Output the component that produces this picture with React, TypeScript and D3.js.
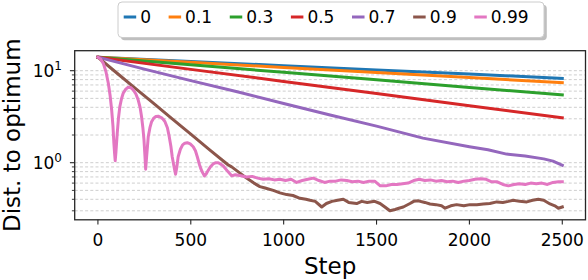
import React from "react";
import * as d3 from "d3";

// ---------- data ----------
const momentumLabels = ["0", "0.1", "0.3", "0.5", "0.7", "0.9", "0.99"];
const seriesColors = ["#1f77b4", "#ff7f0e", "#2ca02c", "#d62728", "#9467bd", "#8c564b", "#e377c2"];

const stepsCoarse = [0, 500, 1000, 1500, 2000, 2500];
const distM0 = [14, 12.6, 11.34, 10.2, 9.18, 8.26];
const distM01 = [14, 12.33, 10.85, 9.56, 8.41, 7.41];
const distM03 = [14, 11.59, 9.6, 7.95, 6.58, 5.45];
const distM05 = [14, 10.34, 7.64, 5.65, 4.17, 3.08];

const stepsM07 = [0, 250, 500, 750, 1000, 1250, 1500, 1750, 2000, 2100, 2200, 2300, 2400, 2450, 2500];
const distM07 = [14, 10.4, 7.8, 5.9, 4.4, 3.3, 2.5, 1.85, 1.49, 1.38, 1.24, 1.18, 1.1, 1.04, 0.94];

const stepsM09 = [
  0, 100, 200, 300, 400, 500, 600, 700, 720, 765, 800, 840, 872, 900, 944, 980, 1016, 1050, 1088, 1120,
  1142, 1170, 1205, 1230, 1260, 1290, 1321, 1350, 1393, 1420, 1450, 1490, 1519, 1545, 1572, 1600, 1620,
  1644, 1680, 1700, 1725, 1760, 1788, 1820, 1850, 1869, 1900, 1931, 1970, 2003, 2040, 2075, 2110, 2147,
  2180, 2210, 2236, 2270, 2309, 2340, 2371, 2400, 2434, 2460, 2479, 2500,
];
const distM09 = [
  14, 9.5, 6.48, 4.41, 3.0, 2.04, 1.39, 0.95, 0.9, 0.77, 0.68, 0.6, 0.55, 0.53, 0.5, 0.47, 0.45, 0.44,
  0.41, 0.4, 0.39, 0.38, 0.33, 0.36, 0.38, 0.39, 0.4, 0.37, 0.36, 0.38, 0.37, 0.38, 0.36, 0.33, 0.3, 0.31,
  0.32, 0.33, 0.36, 0.38, 0.385, 0.37, 0.356, 0.35, 0.34, 0.32, 0.34, 0.35, 0.34, 0.35, 0.35, 0.356, 0.36,
  0.375, 0.37, 0.38, 0.39, 0.38, 0.375, 0.39, 0.4, 0.39, 0.356, 0.34, 0.32, 0.33,
];

const stepsM099 = [
  0, 15, 29, 43, 56, 66, 74, 81, 86, 90, 93, 97, 104, 111, 118, 127, 136, 150, 163, 177, 190, 205, 217, 227,
  235, 242, 248, 253, 257, 262, 271, 280, 289, 300, 312, 325, 340, 352, 361, 374, 384, 393, 400, 410, 418,
  425, 432, 444, 456, 468, 481, 497, 513, 525, 535, 547, 555, 565, 573, 582, 590, 605, 620, 635, 648, 662,
  675, 700, 720, 740, 770, 800, 830, 860, 890, 920, 950, 980, 1010, 1040, 1070, 1100, 1130, 1160, 1190,
  1220, 1250, 1280, 1310, 1340, 1370, 1400, 1430, 1460, 1490, 1520, 1550, 1580, 1610, 1640, 1670, 1700,
  1730, 1760, 1790, 1820, 1850, 1880, 1910, 1940, 1970, 2000, 2030, 2060, 2090, 2120, 2150, 2180, 2210,
  2240, 2270, 2300, 2330, 2360, 2390, 2420, 2450, 2480, 2500,
];
const distM099 = [
  14, 13.4, 12.0, 9.8, 7.3, 5.3, 3.74, 2.5, 1.62, 1.25, 1.05, 1.3, 2.09, 3.1, 4.07, 4.95, 5.68, 6.3, 6.6,
  6.55, 6.2, 5.55, 4.8, 4.0, 3.16, 2.4, 1.77, 1.2, 0.85, 1.15, 1.92, 2.4, 2.79, 3.05, 3.18, 3.2, 3.1, 2.95,
  2.79, 2.4, 1.92, 1.5, 1.16, 0.9, 0.75, 0.9, 1.16, 1.4, 1.56, 1.63, 1.65, 1.6, 1.49, 1.35, 1.16, 0.95,
  0.85, 0.77, 0.72, 0.75, 0.8, 0.9, 0.97, 1.0, 1.0, 0.96, 0.92, 0.8, 0.72, 0.74, 0.72, 0.7, 0.71, 0.68,
  0.66, 0.67, 0.65, 0.66, 0.64, 0.66, 0.61, 0.64, 0.66, 0.68, 0.64, 0.61, 0.63, 0.63, 0.65, 0.64, 0.62,
  0.63, 0.61, 0.63, 0.63, 0.56, 0.56, 0.58, 0.58, 0.59, 0.6, 0.64, 0.66, 0.64, 0.65, 0.63, 0.64, 0.62, 0.63,
  0.61, 0.63, 0.64, 0.66, 0.67, 0.66, 0.62, 0.62, 0.58, 0.56, 0.58, 0.59, 0.58, 0.6, 0.59, 0.6, 0.58, 0.61,
  0.62, 0.62,
];

const seriesSteps = [stepsCoarse, stepsCoarse, stepsCoarse, stepsCoarse, stepsM07, stepsM09, stepsM099];
const seriesValues = [distM0, distM01, distM03, distM05, distM07, distM09, distM099];

const xTicks = [0, 500, 1000, 1500, 2000, 2500];
const yMajorTicks = [1, 10];
const yMajorLabels = ["0", "1"];
const yMinorTicks = [0.3, 0.4, 0.5, 0.6, 0.7, 0.8, 0.9, 2, 3, 4, 5, 6, 7, 8, 9];

// ---------- layout ----------
const W = 588;
const H = 280;
const L = 74.7;
const R = 585.5;
const T = 50.7;
const B = 219.8;
const FONT = "DejaVu Sans";
const INK = "#262626";

function measure(text: string, size: number) {
  if (typeof document === "undefined") return text.length * size * 0.6;
  const c = document.createElement("canvas").getContext("2d");
  if (!c) return text.length * size * 0.6;
  c.font = `${size}px "${FONT}"`;
  return c.measureText(text).width;
}

export default function App() {
  const x = d3.scaleLinear().domain([-125, 2625]).range([L, R]);
  const y = d3.scaleLog().domain([Math.pow(10, -0.6207), Math.pow(10, 1.2174)]).range([B, T]);

  const line = d3
    .line<[number, number]>()
    .x((d) => x(d[0]))
    .y((d) => y(d[1]));

  const gridVals = [...yMinorTicks, ...yMajorTicks];

  // legend layout
  const legFont = 17;
  const handleLen = 12.5;
  const handleGap = 4;
  const colGap = 17.6;
  const legLeft = 118;
  const legRight = 544;
  const legTop = 2;
  const legBottom = 37.5;
  const legMid = 17;
  let cursor = 123.7;
  const legendItems = momentumLabels.map((lab, i) => {
    const hx = cursor;
    const tx = hx + handleLen + handleGap;
    cursor = tx + measure(lab, legFont) + colGap;
    return { lab, color: seriesColors[i], hx, tx };
  });

  return (
    <svg
      width={W}
      height={H}
      style={{ position: "fixed", left: 0, top: 0, background: "#fff" }}
      fontFamily={FONT}
    >
      <rect x={0} y={0} width={W} height={H} fill="#fff" />
      <defs>
        <clipPath id="plot">
          <rect x={L} y={T} width={R - L} height={B - T} />
        </clipPath>
      </defs>

      {/* grid */}
      {gridVals.map((v) => (
        <line
          key={"g" + v}
          x1={L}
          x2={R}
          y1={y(v)}
          y2={y(v)}
          stroke="#c8c8c8"
          strokeWidth={0.9}
          strokeDasharray="3,2.2"
        />
      ))}

      {/* series */}
      <g clipPath="url(#plot)">
        {seriesValues.map((vals, i) => {
          const pts = vals.map((v, j) => [seriesSteps[i][j], v] as [number, number]);
          return (
            <path
              key={"s" + i}
              d={line(pts) || ""}
              fill="none"
              stroke={seriesColors[i]}
              strokeWidth={3}
              strokeLinejoin="round"
              strokeLinecap="square"
            />
          );
        })}
      </g>

      {/* frame */}
      <rect x={L} y={T} width={R - L} height={B - T} fill="none" stroke={INK} strokeWidth={1.3} />

      {/* x ticks */}
      {xTicks.map((t) => (
        <g key={"x" + t}>
          <line x1={x(t)} x2={x(t)} y1={B} y2={B + 4.8} stroke={INK} strokeWidth={1.1} />
          <text x={x(t)} y={246.3} textAnchor="middle" fontSize={17} fill="#000">
            {t}
          </text>
        </g>
      ))}

      {/* y ticks */}
      {yMinorTicks.map((t) => (
        <line key={"ym" + t} x1={L - 2.8} x2={L} y1={y(t)} y2={y(t)} stroke={INK} strokeWidth={0.9} />
      ))}
      {yMajorTicks.map((t, i) => (
        <g key={"yM" + t}>
          <line x1={L - 4.8} x2={L} y1={y(t)} y2={y(t)} stroke={INK} strokeWidth={1.1} />
          <text x={62} y={y(t) + 6.5} textAnchor="end" fontSize={17} fill="#000">
            10
            <tspan fontSize={12} dy={-7.5}>
              {yMajorLabels[i]}
            </tspan>
          </text>
        </g>
      ))}

      {/* axis labels */}
      <text x={(L + R) / 2} y={273.5} textAnchor="middle" fontSize={23} fill="#000">
        Step
      </text>
      <text
        transform={`translate(19.5, ${(T + B) / 2}) rotate(-90)`}
        textAnchor="middle"
        fontSize={23}
        fill="#000"
      >
        Dist. to optimum
      </text>

      {/* legend */}
      <rect
        x={legLeft + 2.8}
        y={legTop + 2.8}
        width={legRight - legLeft}
        height={legBottom - legTop}
        rx={4}
        fill="#808080"
        opacity={0.5}
      />
      <rect
        x={legLeft}
        y={legTop}
        width={legRight - legLeft}
        height={legBottom - legTop}
        rx={4}
        fill="#fff"
        stroke="#cccccc"
        strokeWidth={1}
      />
      {legendItems.map((it) => (
        <g key={"l" + it.lab}>
          <line
            x1={it.hx}
            x2={it.hx + handleLen}
            y1={legMid}
            y2={legMid}
            stroke={it.color}
            strokeWidth={3}
          />
          <text x={it.tx} y={legMid + 6.2} fontSize={legFont} fill="#000">
            {it.lab}
          </text>
        </g>
      ))}
    </svg>
  );
}
